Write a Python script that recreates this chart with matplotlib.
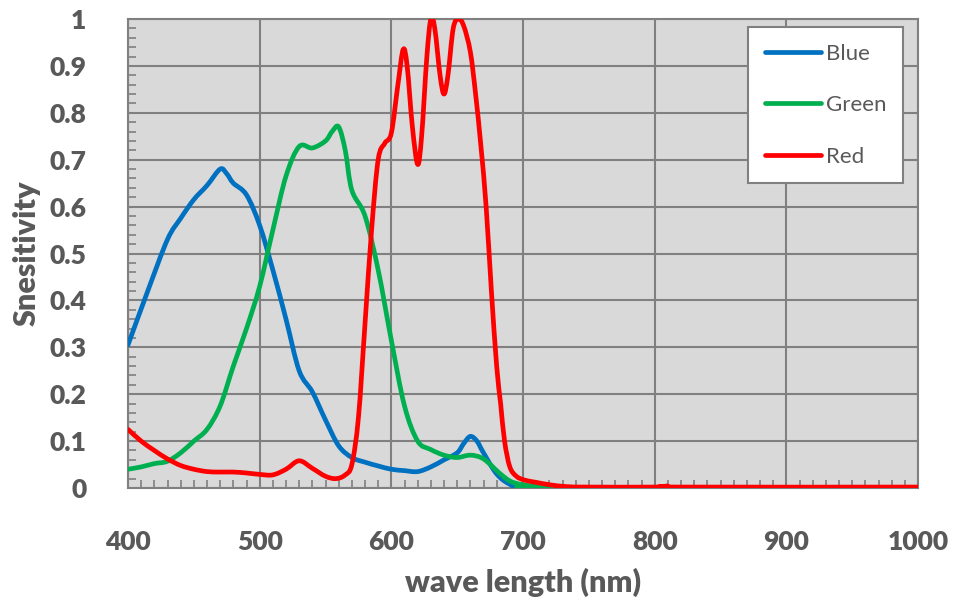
import matplotlib
matplotlib.use("Agg")
import matplotlib.pyplot as plt
from matplotlib.ticker import MultipleLocator
from matplotlib.path import Path
from matplotlib.patches import PathPatch
from matplotlib.lines import Line2D

blue_x = [400, 415, 430, 440, 450, 460, 470, 475, 480, 490, 500, 510, 520, 530, 540, 550, 560, 570, 580, 590, 600, 610, 620, 630, 640, 650, 655, 660, 665, 670, 680, 690, 700, 720, 1000]
blue_y = [0.305, 0.42, 0.53, 0.575, 0.615, 0.645, 0.68, 0.67, 0.65, 0.625, 0.56, 0.465, 0.36, 0.25, 0.205, 0.145, 0.09, 0.065, 0.055, 0.047, 0.04, 0.037, 0.035, 0.045, 0.06, 0.075, 0.095, 0.11, 0.1, 0.075, 0.03, 0.008, 0.003, 0.0, 0.0]

green_x = [400, 410, 420, 430, 440, 450, 460, 470, 480, 490, 500, 510, 520, 530, 540, 550, 555, 560, 565, 570, 580, 590, 600, 610, 620, 630, 640, 650, 660, 670, 682, 690, 698, 710, 720, 1000]
green_y = [0.04, 0.045, 0.052, 0.057, 0.075, 0.1, 0.125, 0.175, 0.26, 0.34, 0.43, 0.55, 0.665, 0.728, 0.725, 0.74, 0.76, 0.77, 0.72, 0.635, 0.58, 0.465, 0.315, 0.175, 0.1, 0.082, 0.07, 0.065, 0.07, 0.062, 0.032, 0.015, 0.008, 0.003, 0.001, 0.0]

red_x = [400, 410, 420, 430, 440, 450, 460, 470, 480, 490, 500, 510, 520, 530, 540, 550, 558, 565, 570, 575, 580, 585, 590, 595, 600, 605, 609, 612, 616, 620, 623, 627, 630, 633, 637, 640, 643, 647, 651, 655, 660, 664, 668, 672, 676, 680, 683, 686, 690, 695, 701, 710, 720, 733, 750, 800, 810, 820, 1000]
red_y = [0.125, 0.10, 0.08, 0.062, 0.048, 0.04, 0.035, 0.034, 0.034, 0.032, 0.029, 0.028, 0.04, 0.058, 0.042, 0.025, 0.02, 0.028, 0.05, 0.15, 0.35, 0.55, 0.70, 0.735, 0.757, 0.86, 0.935, 0.9, 0.77, 0.69, 0.75, 0.92, 1.0, 0.98, 0.88, 0.84, 0.88, 0.98, 1.0, 0.985, 0.93, 0.84, 0.73, 0.6, 0.42, 0.26, 0.18, 0.1, 0.045, 0.025, 0.017, 0.012, 0.007, 0.003, 0.002, 0.002, 0.004, 0.002, 0.002]

series_names = ["Blue", "Green", "Red"]
series_colors = ["#0070C0", "#00B050", "#FF0000"]

x_ticks = [400, 500, 600, 700, 800, 900, 1000]
y_ticks = [0, 0.1, 0.2, 0.3, 0.4, 0.5, 0.6, 0.7, 0.8, 0.9, 1]
y_tick_labels = ["0", "0.1", "0.2", "0.3", "0.4", "0.5", "0.6", "0.7", "0.8", "0.9", "1"]

plt.rcParams['font.family'] = ['Lato', 'DejaVu Sans']
TXT = '#595959'
GRID = '#808080'
LW = 3.4


def smooth_path(xs, ys):
    """Excel-style smoothed line: Catmull-Rom segments as cubic Bezier curves."""
    pts = list(zip(xs, ys))
    n = len(pts)
    verts = [pts[0]]
    codes = [Path.MOVETO]
    for i in range(n - 1):
        p0 = pts[i - 1] if i > 0 else pts[i]
        p1 = pts[i]
        p2 = pts[i + 1]
        p3 = pts[i + 2] if i + 2 < n else pts[i + 1]
        c1 = (p1[0] + (p2[0] - p0[0]) / 6.0, p1[1] + (p2[1] - p0[1]) / 6.0)
        c2 = (p2[0] - (p3[0] - p1[0]) / 6.0, p2[1] - (p3[1] - p1[1]) / 6.0)
        verts += [c1, c2, p2]
        codes += [Path.CURVE4, Path.CURVE4, Path.CURVE4]
    return Path(verts, codes)


fig = plt.figure(figsize=(9.58, 6.01), dpi=100)
ax = fig.add_axes([128/958, 113/601, 790/958, 469/601])
ax.set_facecolor('#D9D9D9')

for xs, ys, col in [(blue_x, blue_y, series_colors[0]), (green_x, green_y, series_colors[1]), (red_x, red_y, series_colors[2])]:
    patch = PathPatch(smooth_path(xs, ys), facecolor='none', edgecolor=col, lw=LW,
                      capstyle='round', joinstyle='round', zorder=3)
    patch.set_clip_on(True)
    ax.add_patch(patch)

ax.set_xlim(400, 1000)
ax.set_ylim(0, 1)
ax.set_xticks(x_ticks)
ax.set_xticklabels([str(v) for v in x_ticks])
ax.set_yticks(y_ticks)
ax.set_yticklabels(y_tick_labels)
ax.xaxis.set_minor_locator(MultipleLocator(10))
ax.yaxis.set_minor_locator(MultipleLocator(0.02))
ax.tick_params(which='major', length=0, labelsize=19, labelcolor=TXT)
ax.tick_params(axis='x', which='major', pad=30)
ax.tick_params(axis='y', which='major', pad=30)
ax.tick_params(which='minor', direction='in', length=6, width=1.2, color=GRID)
for lab in ax.get_xticklabels() + ax.get_yticklabels():
    lab.set_fontweight('heavy')

ax.grid(True, which='major', color=GRID, lw=1.5, zorder=1)
ax.set_axisbelow(True)
for s in ax.spines.values():
    s.set_color(GRID)
    s.set_linewidth(1.5)

ax.set_xlabel('wave length (nm)', fontsize=22, fontweight='heavy', color=TXT, labelpad=10)
ax.set_ylabel('Snesitivity', fontsize=22, fontweight='heavy', color=TXT, labelpad=6)

handles = [Line2D([], [], color=c, lw=LW, solid_capstyle='round') for c in series_colors]
leg = ax.legend(handles, series_names, loc='upper right', bbox_to_anchor=(903/958, 574/601), bbox_transform=fig.transFigure,
                fontsize=16, frameon=True, fancybox=False, framealpha=1, edgecolor=GRID,
                handlelength=2.55, handletextpad=0.2, labelspacing=1.42, borderpad=0.75, borderaxespad=0)
leg.get_frame().set_linewidth(1.5)
for t in leg.get_texts():
    t.set_color(TXT)

fig.savefig('out.png', dpi=100)
